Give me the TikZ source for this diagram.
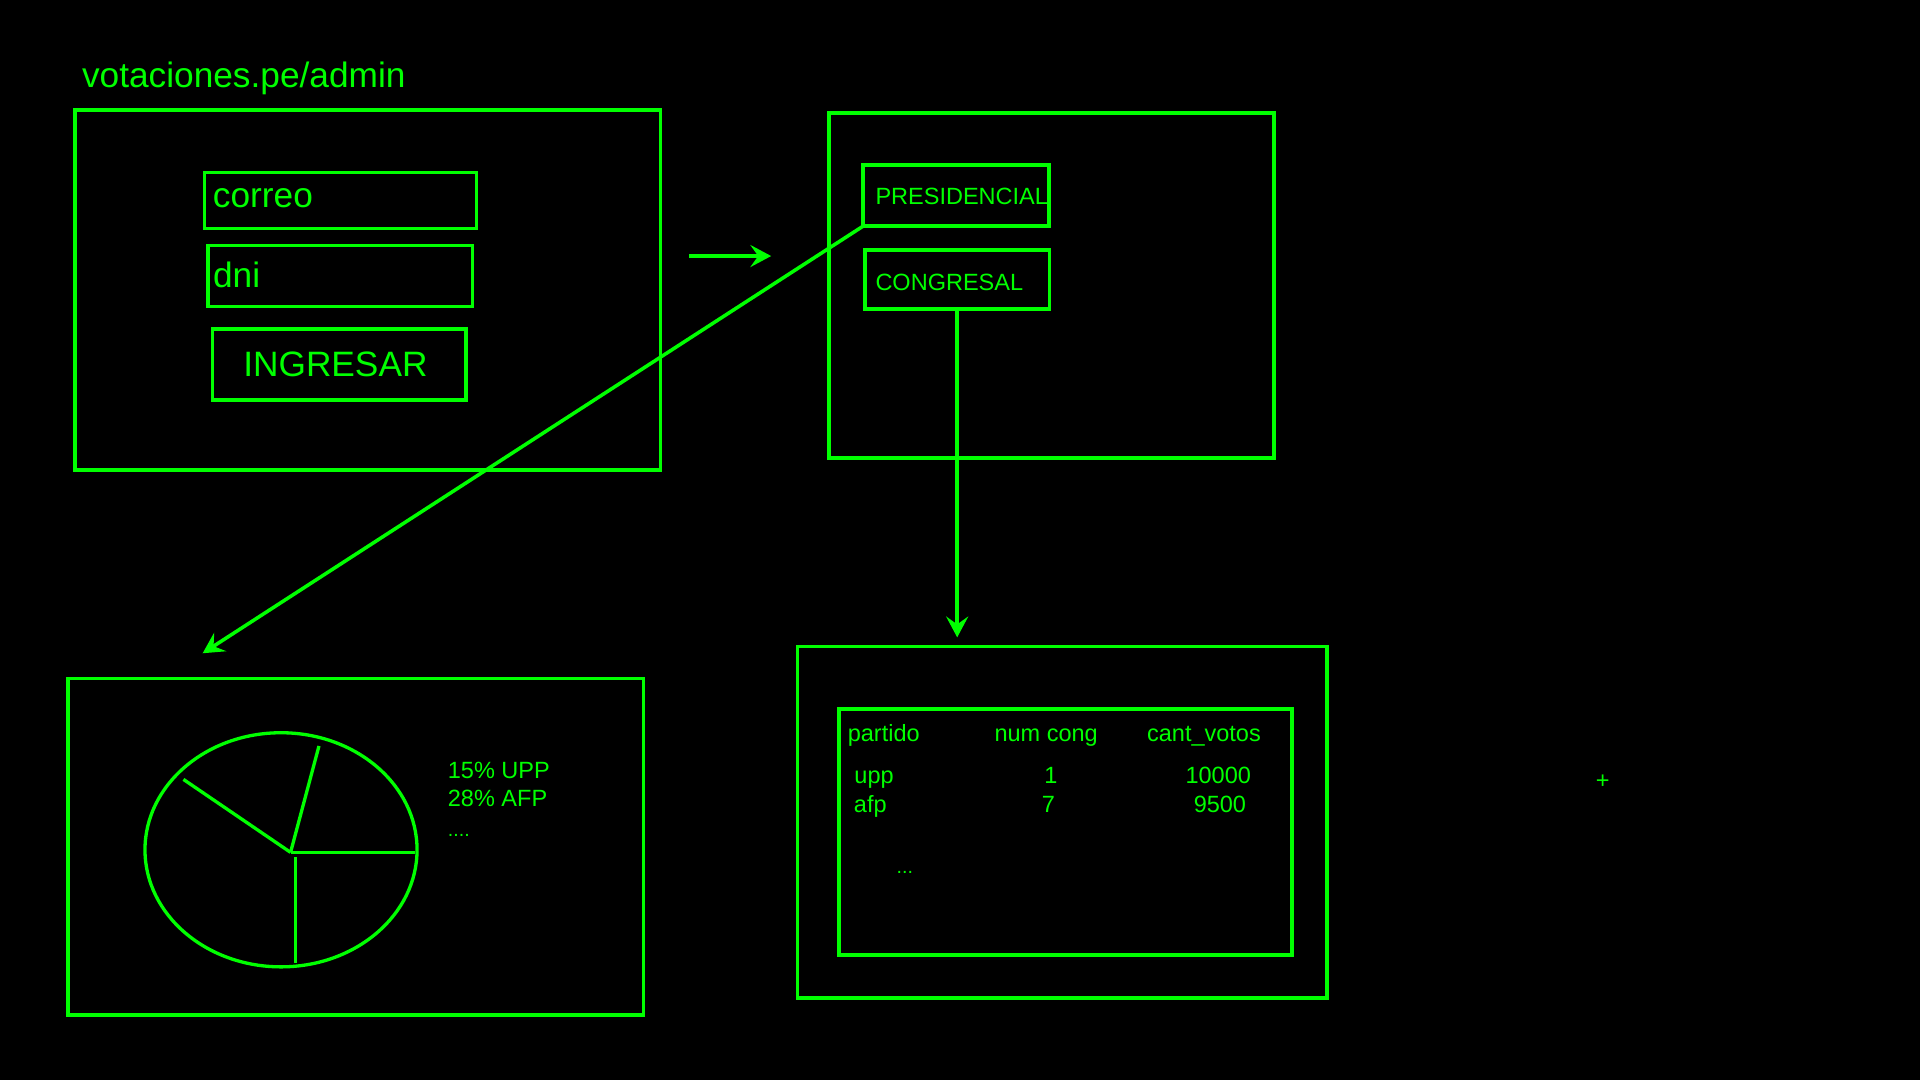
\documentclass[tikz,border=0pt]{standalone}
\usepackage{fontspec}
\setmainfont{Liberation Sans}
\usetikzlibrary{arrows.meta}
\definecolor{neon}{RGB}{0,255,0}
\begin{document}
\begin{tikzpicture}[x=0.5pt,y=-0.5pt,
  frame/.style={draw=neon, line width=1.5pt, inner sep=0pt, outer sep=0pt},
  big/.style={text=neon, font=\fontsize{14.4pt}{17pt}\selectfont, inner sep=0pt, anchor=base west},
  small/.style={text=neon, font=\fontsize{9.6pt}{11.5pt}\selectfont, inner sep=0pt, anchor=base west},
  conn/.style={draw=neon, line width=1.45pt},
  tipped/.style={-{Stealth[length=8.5pt,width=9pt,inset=3.2pt]}}
]
\fill[black] (0,0) rectangle (1568,882);
\useasboundingbox (0,0) rectangle (1568,882);

% title
\node[big] (title) at (66.6,71.4) {votaciones.pe/admin};

% login screen
\node[frame, minimum width=239.05pt, minimum height=147pt] (login) at (300.45,236.8) {};
\node[frame, minimum width=111pt, minimum height=22.75pt] (correobox) at (278.1,163.75) {};
\node[frame, minimum width=107.85pt, minimum height=24.9pt] (dnibox) at (277.95,225.5) {};
\node[frame, minimum width=103.5pt, minimum height=29pt] (ingbox) at (277.1,297.9) {};
\node[big] (correo) at (173.5,169.2) {correo};
\node[big] (dni) at (173.6,234.8) {dni};
\node[big] (ingresar) at (198.3,307.8) {INGRESAR};

% menu screen
\node[frame, minimum width=181.7pt, minimum height=140.65pt] (menu) at (858.7,233.15) {};
\node[frame, minimum width=75.95pt, minimum height=24.9pt] (pres) at (780.95,159.7) {};
\node[frame, minimum width=75.3pt, minimum height=24.2pt] (cong) at (781.7,228.4) {};
\node[small] (prestxt) at (714.6,166.8) {PRESIDENCIAL};
\node[small] (congtxt) at (714.6,237.6) {CONGRESAL};

% pie screen
\node[frame, minimum width=235.05pt, minimum height=137.45pt] (piescreen) at (290.55,691.45) {};
\draw[neon, line width=1.35pt] (229.5,694) ellipse [x radius=55.55pt, y radius=47.8pt];
\coordinate (pc) at (237.3,696.1);
\draw[neon, line width=1.35pt] (pc) -- (149.8,636.5);
\draw[neon, line width=1.35pt] (pc) -- (260.5,609.2);
\draw[neon, line width=1.35pt] (pc) -- (338.7,696.1);
\draw[neon, line width=1.35pt] (241.1,700) -- (241.1,786.2);
\node[small] (l1) at (365.4,635.8) {15\% UPP};
\node[small] (l2) at (365.4,659) {28\% AFP};
\node[small, font=\fontsize{8pt}{10pt}\selectfont] (l3) at (365.4,683) {....};

% table screen
\node[frame, minimum width=216.15pt, minimum height=143.35pt] (tablescreen) at (867.55,671.45) {};
\node[frame, minimum width=185.15pt, minimum height=100.35pt] (table) at (870.05,679.35) {};
\node[small] (h1) at (692,605.2) {partido};
\node[small] (h2) at (811.8,605.2) {num cong};
\node[small] (h3) at (936.4,605.2) {cant\_votos};
\node[small] (r1a) at (697.4,640) {upp};
\node[small, anchor=base] (r1b) at (858.2,640) {1};
\node[small] (r1c) at (967.8,640) {10000};
\node[small] (r2a) at (697,663.2) {afp};
\node[small, anchor=base] (r2b) at (856.1,663.2) {7};
\node[small] (r2c) at (974.5,663.2) {9500};
\node[small, anchor=base, font=\fontsize{8pt}{10pt}\selectfont] (more) at (739,713) {...};

% stray plus
\node[small, anchor=center] (plus) at (1308.8,638.4) {+};

% connectors
\coordinate (a1s) at (563,209.1);
\coordinate (a1e) at (629.8,209.1);
\draw[conn, tipped] (a1s) -- (a1e);
\coordinate (pietip) at (165.5,533.5);
\draw[conn, tipped] (pres.south west) -- (pietip);
\coordinate (tabletip) at (781.7,520.5);
\draw[conn, tipped] (cong.south) -- (tabletip);
\end{tikzpicture}
\end{document}
